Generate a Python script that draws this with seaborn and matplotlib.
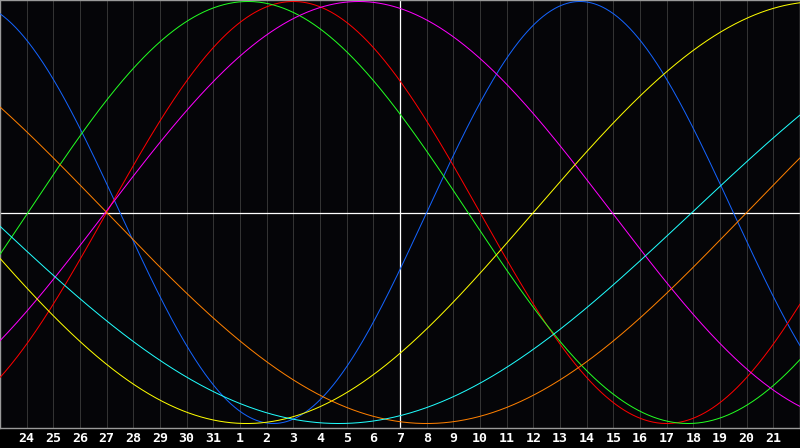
import numpy as np
import pandas as pd
import seaborn as sns
import matplotlib
matplotlib.use("Agg")
import matplotlib.pyplot as plt

# day labels along the bottom (one per grid line), centre day is the 7th
day_labels = ['24', '25', '26', '27', '28', '29', '30', '31', '1', '2', '3', '4', '5', '6', '7',
              '8', '9', '10', '11', '12', '13', '14', '15', '16', '17', '18', '19', '20', '21']

# biorhythm cycles: period in days and the day (chart position) of the upward zero crossing
cycles = ['Physical', 'Emotional', 'Intellectual', 'Intuitive', 'Aesthetic', 'Awareness', 'Spiritual']
periods = [23, 28, 33, 38, 43, 48, 53]
zero_days = [16.0, 4.0, 1.05, 3.95, 20.0, 28.0, 25.95]
colors = ['#1464ff', '#ff0000', '#22ff22', '#ff00ff', '#ffff00', '#ff8000', '#20ffff']

days_shown = 30
today = 15

rows = []
t = np.linspace(0, days_shown, 801)
for name, p, z in zip(cycles, periods, zero_days):
    rows.append(pd.DataFrame({'day': t, 'value': np.sin(2 * np.pi * (t - z) / p), 'cycle': name}))
df = pd.concat(rows)

sns.set_style('dark')
plt.rcParams['font.family'] = ['DejaVu Sans Mono', 'DejaVu Sans']

fig = plt.figure(figsize=(8, 4.48), dpi=100, facecolor='#000000')
ax = fig.add_axes([0, 20 / 448, 1, 428 / 448])
ax.set_facecolor('#050508')

for d in range(1, days_shown):
    ax.axvline(d, color='#333333', lw=0.72, zorder=1)
ax.axvline(today, color='white', lw=0.9, zorder=2)
ax.axhline(0, color='white', lw=0.9, zorder=2)

sns.lineplot(data=df, x='day', y='value', hue='cycle', palette=dict(zip(cycles, colors)),
             linewidth=0.72, legend=False, ax=ax, zorder=3)

ax.set_xlim(0, days_shown)
ax.set_ylim(-1.0213, 1.0071)
ax.set_xticks([])
ax.set_yticks([])
ax.set_xlabel('')
ax.set_ylabel('')
ax.grid(False)
for s in ax.spines.values():
    s.set_visible(True)
    s.set_color('#9a9a9a')
    s.set_linewidth(1.0)

for i, lab in enumerate(day_labels):
    ax.text(i + 1, -0.024, lab, transform=ax.get_xaxis_transform(), ha='center', va='center',
            color='white', fontsize=9.5, fontweight='bold')

fig.savefig('out.png', dpi=100, facecolor='#000000')
